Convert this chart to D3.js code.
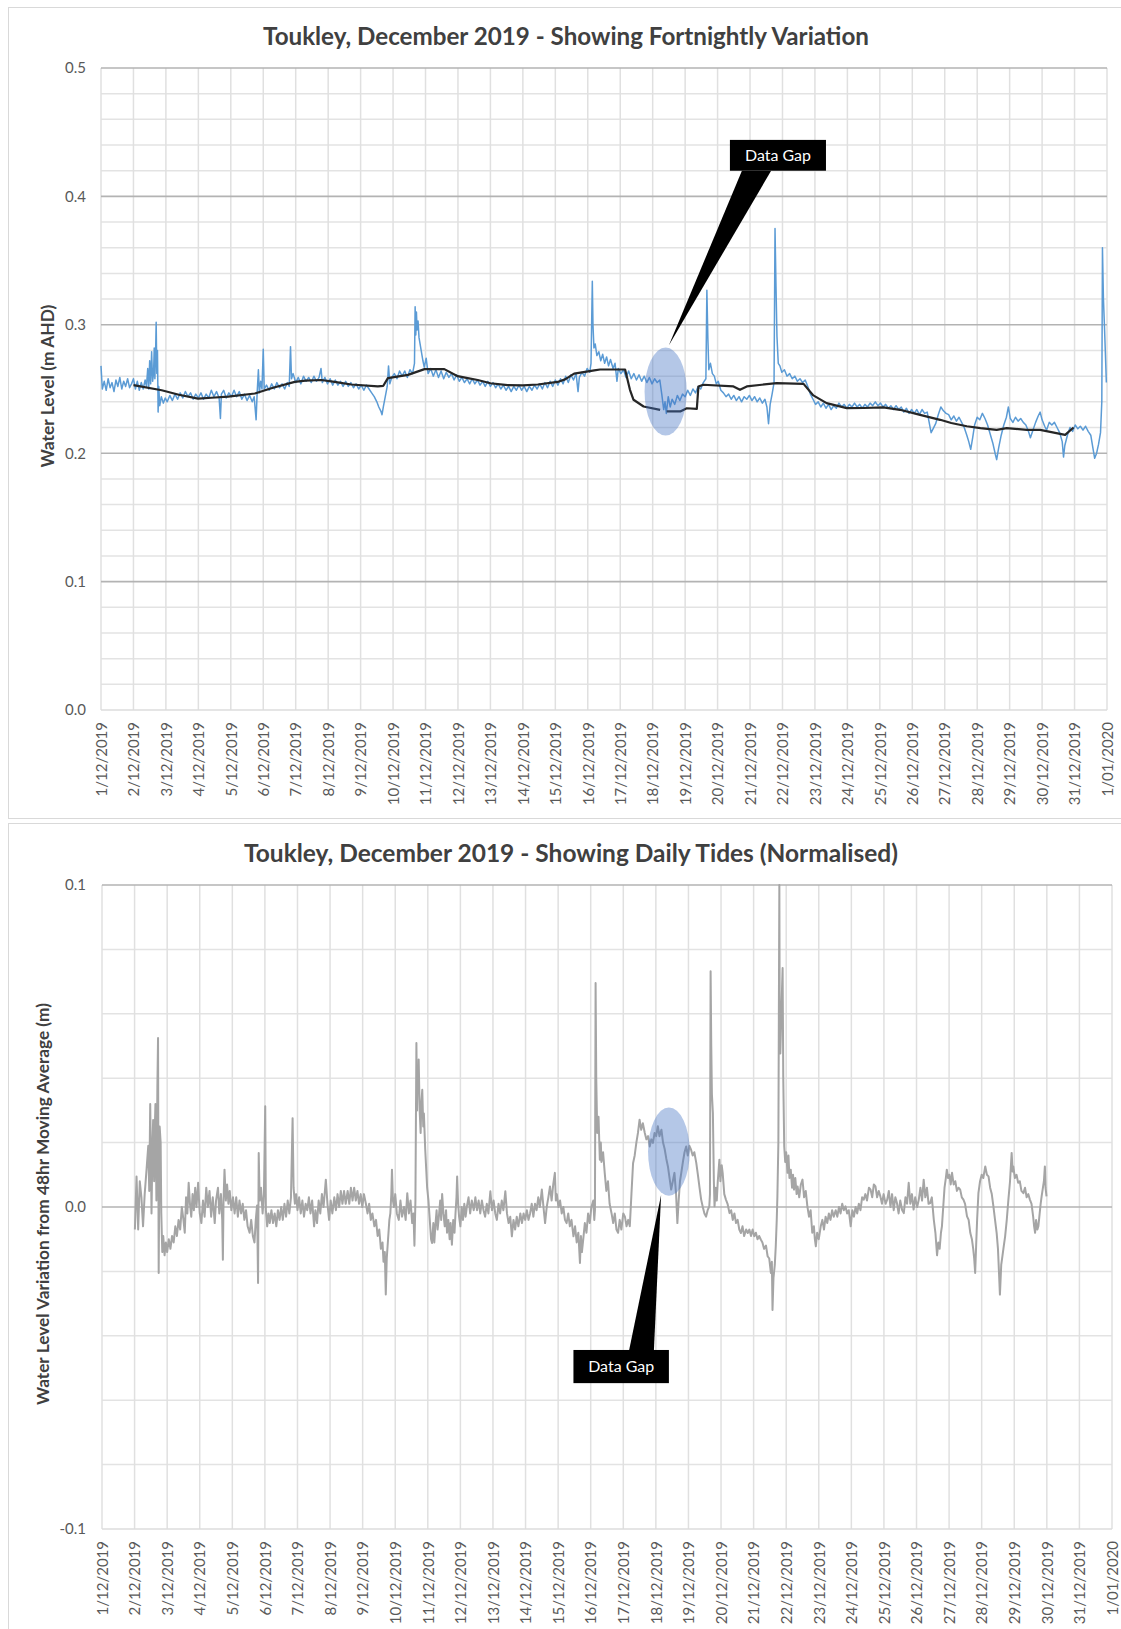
<!DOCTYPE html>
<html>
<head>
<meta charset="utf-8">
<script src="https://cdn.jsdelivr.net/npm/d3@7"></script>
<style>
  body { margin: 0; background: #fff; }
  svg { display: block; font-family: Lato, "Noto Sans", sans-serif; }
</style>
</head>
<body>
<svg id="chart" width="1121" height="1629"></svg>
<script>
// Day labels along both x axes.
const dayLabels = ['1/12/2019', '2/12/2019', '3/12/2019', '4/12/2019', '5/12/2019', '6/12/2019',
  '7/12/2019', '8/12/2019', '9/12/2019', '10/12/2019', '11/12/2019', '12/12/2019', '13/12/2019',
  '14/12/2019', '15/12/2019', '16/12/2019', '17/12/2019', '18/12/2019', '19/12/2019', '20/12/2019',
  '21/12/2019', '22/12/2019', '23/12/2019', '24/12/2019', '25/12/2019', '26/12/2019', '27/12/2019',
  '28/12/2019', '29/12/2019', '30/12/2019', '31/12/2019', '1/01/2020'];

const topTitle = 'Toukley, December 2019 - Showing Fortnightly Variation';
const bottomTitle = 'Toukley, December 2019 - Showing Daily Tides (Normalised)';
const topYTitle = 'Water Level (m AHD)';
const bottomYTitle = 'Water Level Variation from 48hr Moving Average (m)';
const topYTicks = [0, 0.1, 0.2, 0.3, 0.4, 0.5];
const bottomYTicks = [-0.1, 0, 0.1];
const gapLabel = 'Data Gap';

// Water level, [days since 1/12 00:00, m AHD].
const waterLevel = [
  [0.00,0.268],[0.04,0.250],[0.10,0.256],[0.16,0.249],[0.22,0.258],[0.28,0.251],[0.34,0.255],[0.40,0.248],
  [0.46,0.257],[0.52,0.252],[0.58,0.259],[0.64,0.250],[0.70,0.256],[0.76,0.252],[0.82,0.258],[0.88,0.251],
  [0.94,0.254],[1.00,0.258],[1.06,0.250],[1.12,0.256],[1.18,0.249],[1.24,0.255],[1.30,0.250],[1.36,0.257],
  [1.40,0.252],[1.44,0.266],[1.47,0.250],[1.50,0.272],[1.53,0.254],[1.56,0.279],[1.59,0.256],[1.62,0.262],
  [1.64,0.282],[1.66,0.258],[1.68,0.275],[1.70,0.302],[1.72,0.262],[1.74,0.280],[1.76,0.232],[1.78,0.252],
  [1.81,0.237],[1.86,0.244],[1.92,0.239],[1.98,0.243],[2.04,0.240],[2.12,0.245],[2.20,0.241],[2.28,0.246],
  [2.36,0.242],[2.44,0.247],[2.52,0.243],[2.60,0.248],[2.68,0.244],[2.76,0.247],[2.84,0.242],[2.92,0.246],
  [3.00,0.243],[3.08,0.247],[3.16,0.242],[3.24,0.246],[3.32,0.243],[3.40,0.249],[3.48,0.244],[3.56,0.248],
  [3.64,0.243],[3.68,0.227],[3.71,0.246],[3.78,0.249],[3.86,0.243],[3.94,0.247],[4.02,0.244],[4.10,0.249],
  [4.18,0.244],[4.26,0.248],[4.34,0.242],[4.42,0.246],[4.50,0.241],[4.58,0.245],[4.66,0.240],[4.72,0.244],
  [4.78,0.226],[4.81,0.246],[4.85,0.265],[4.88,0.247],[4.92,0.256],[4.96,0.250],[5.00,0.281],[5.03,0.250],
  [5.10,0.253],[5.18,0.249],[5.26,0.254],[5.34,0.250],[5.42,0.255],[5.50,0.251],[5.58,0.254],[5.66,0.250],
  [5.74,0.255],[5.80,0.252],[5.84,0.283],[5.87,0.258],[5.92,0.262],[6.00,0.255],[6.08,0.259],[6.16,0.254],
  [6.24,0.260],[6.32,0.256],[6.40,0.259],[6.48,0.255],[6.56,0.260],[6.64,0.256],[6.72,0.259],[6.78,0.266],
  [6.82,0.255],[6.90,0.259],[6.98,0.254],[7.06,0.258],[7.14,0.253],[7.22,0.257],[7.30,0.253],[7.38,0.256],
  [7.46,0.252],[7.54,0.256],[7.62,0.252],[7.70,0.255],[7.78,0.251],[7.86,0.254],[7.94,0.250],[8.02,0.253],
  [8.10,0.249],[8.18,0.253],[8.26,0.250],[8.34,0.247],[8.42,0.244],[8.50,0.240],[8.56,0.236],[8.62,0.233],
  [8.66,0.230],[8.70,0.236],[8.76,0.244],[8.82,0.252],[8.86,0.268],[8.90,0.254],[8.96,0.259],[9.04,0.262],
  [9.12,0.258],[9.20,0.264],[9.28,0.260],[9.36,0.264],[9.44,0.259],[9.52,0.265],[9.60,0.262],[9.66,0.270],
  [9.68,0.314],[9.70,0.292],[9.72,0.310],[9.74,0.296],[9.77,0.303],[9.80,0.290],[9.84,0.284],[9.88,0.278],
  [9.92,0.272],[9.96,0.267],[10.02,0.274],[10.08,0.262],[10.16,0.266],[10.24,0.260],[10.32,0.265],[10.40,0.259],
  [10.48,0.264],[10.56,0.258],[10.64,0.263],[10.72,0.259],[10.80,0.262],[10.88,0.257],[10.96,0.261],[11.04,0.256],
  [11.12,0.259],[11.20,0.255],[11.28,0.258],[11.36,0.254],[11.44,0.258],[11.52,0.254],[11.60,0.257],[11.68,0.253],
  [11.76,0.256],[11.84,0.252],[11.92,0.256],[12.00,0.252],[12.08,0.255],[12.16,0.251],[12.24,0.254],[12.32,0.250],
  [12.40,0.253],[12.48,0.249],[12.56,0.252],[12.64,0.248],[12.72,0.252],[12.80,0.249],[12.88,0.253],[12.96,0.249],
  [13.04,0.252],[13.12,0.248],[13.20,0.252],[13.28,0.249],[13.36,0.253],[13.44,0.250],[13.52,0.254],[13.60,0.250],
  [13.68,0.255],[13.76,0.251],[13.84,0.256],[13.92,0.252],[14.00,0.257],[14.08,0.253],[14.16,0.258],[14.24,0.254],
  [14.32,0.260],[14.40,0.255],[14.48,0.261],[14.56,0.257],[14.64,0.262],[14.70,0.248],[14.74,0.259],[14.82,0.263],
  [14.90,0.260],[14.98,0.266],[15.06,0.263],[15.10,0.270],[15.14,0.334],[15.16,0.300],[15.19,0.282],[15.23,0.285],
  [15.28,0.276],[15.34,0.279],[15.40,0.272],[15.46,0.277],[15.52,0.270],[15.58,0.275],[15.64,0.268],[15.70,0.273],
  [15.78,0.266],[15.84,0.270],[15.90,0.256],[15.94,0.266],[16.02,0.262],[16.10,0.265],[16.18,0.259],[16.26,0.264],
  [16.34,0.258],[16.42,0.262],[16.50,0.257],[16.58,0.261],[16.66,0.256],[16.74,0.260],[16.82,0.255],[16.90,0.259],
  [16.98,0.254],[17.06,0.258],[17.14,0.255],[17.22,0.257],[17.28,0.246],[17.34,0.234],[17.38,0.240],[17.42,0.231],
  [17.48,0.244],[17.54,0.236],[17.60,0.242],[17.68,0.238],[17.76,0.245],[17.84,0.241],[17.92,0.246],[18.00,0.244],
  [18.08,0.249],[18.16,0.245],[18.24,0.250],[18.32,0.247],[18.40,0.252],[18.48,0.250],[18.56,0.255],[18.64,0.258],
  [18.67,0.327],[18.70,0.290],[18.73,0.265],[18.78,0.270],[18.84,0.262],[18.90,0.260],[18.96,0.254],[19.02,0.256],
  [19.10,0.249],[19.18,0.247],[19.26,0.244],[19.34,0.246],[19.42,0.242],[19.50,0.245],[19.58,0.241],[19.66,0.244],
  [19.74,0.240],[19.82,0.244],[19.90,0.242],[19.98,0.245],[20.06,0.241],[20.14,0.244],[20.22,0.240],[20.30,0.243],
  [20.38,0.239],[20.46,0.242],[20.52,0.236],[20.57,0.223],[20.62,0.238],[20.68,0.246],[20.74,0.255],[20.77,0.375],
  [20.80,0.330],[20.83,0.291],[20.87,0.270],[20.92,0.268],[20.98,0.263],[21.06,0.265],[21.14,0.260],[21.22,0.262],
  [21.30,0.258],[21.38,0.260],[21.46,0.256],[21.54,0.258],[21.62,0.255],[21.70,0.257],[21.78,0.252],[21.86,0.246],
  [21.94,0.242],[22.02,0.238],[22.10,0.240],[22.18,0.236],[22.26,0.239],[22.34,0.235],[22.42,0.238],[22.50,0.234],
  [22.58,0.237],[22.66,0.235],[22.74,0.239],[22.82,0.236],[22.90,0.238],[22.98,0.235],[23.06,0.238],[23.14,0.236],
  [23.22,0.239],[23.30,0.236],[23.38,0.238],[23.46,0.235],[23.54,0.238],[23.62,0.236],[23.70,0.239],[23.78,0.237],
  [23.86,0.240],[23.94,0.237],[24.02,0.239],[24.10,0.236],[24.18,0.238],[24.26,0.235],[24.34,0.237],[24.42,0.234],
  [24.50,0.237],[24.58,0.234],[24.66,0.236],[24.74,0.232],[24.82,0.235],[24.90,0.231],[24.98,0.234],[25.06,0.231],
  [25.14,0.234],[25.22,0.230],[25.30,0.234],[25.38,0.231],[25.46,0.232],[25.52,0.224],[25.58,0.216],[25.64,0.219],
  [25.72,0.223],[25.80,0.230],[25.88,0.236],[25.96,0.233],[26.04,0.231],[26.12,0.230],[26.20,0.226],[26.28,0.229],
  [26.36,0.225],[26.44,0.228],[26.52,0.224],[26.60,0.220],[26.68,0.214],[26.74,0.209],[26.80,0.203],[26.86,0.212],
  [26.92,0.222],[27.00,0.228],[27.08,0.226],[27.16,0.231],[27.24,0.227],[27.32,0.222],[27.40,0.215],[27.48,0.208],
  [27.56,0.199],[27.60,0.195],[27.66,0.204],[27.74,0.214],[27.82,0.222],[27.90,0.228],[27.96,0.236],[28.02,0.227],
  [28.10,0.224],[28.18,0.228],[28.26,0.225],[28.34,0.227],[28.42,0.224],[28.50,0.222],[28.58,0.217],[28.64,0.212],
  [28.72,0.218],[28.80,0.224],[28.88,0.229],[28.94,0.232],[29.00,0.226],[29.08,0.221],[29.14,0.218],[29.22,0.224],
  [29.30,0.222],[29.38,0.224],[29.46,0.220],[29.54,0.216],[29.62,0.209],[29.66,0.197],[29.70,0.206],[29.78,0.214],
  [29.86,0.220],[29.94,0.217],[30.02,0.222],[30.10,0.219],[30.18,0.221],[30.26,0.218],[30.34,0.221],[30.42,0.217],
  [30.50,0.214],[30.56,0.205],[30.62,0.196],[30.68,0.200],[30.74,0.207],[30.80,0.216],[30.84,0.240],[30.86,0.360],
  [30.89,0.320],[30.92,0.300],[30.95,0.278],[30.98,0.255]
];

// 48hr moving average, [day, m AHD]; null marks the data gap.
const movingAverage = [
  [1.00,0.253],[1.87,0.249],[2.40,0.2455],[2.99,0.2425],[3.40,0.2432],[3.92,0.244],[4.74,0.2465],[5.30,0.251],
  [5.97,0.2555],[6.30,0.2565],[6.79,0.257],[7.20,0.2555],[7.71,0.2535],[8.53,0.252],[8.70,0.2525],[8.84,0.2585],
  [9.46,0.261],[9.97,0.2655],[10.58,0.2655],[10.99,0.260],[11.30,0.2585],[11.61,0.257],[12.00,0.2545],[12.53,0.253],
  [13.00,0.2528],[13.46,0.2535],[14.07,0.2555],[14.30,0.2575],[14.58,0.262],[15.20,0.2645],[15.38,0.2652],
  [16.15,0.2652],[16.30,0.2494],[16.41,0.2416],[16.72,0.2364],[17.23,0.2338],[17.33,null],[17.43,0.2325],
  [17.85,0.2325],[18.05,0.235],[18.36,0.2345],[18.41,0.252],[18.56,0.2533],[19.49,0.252],[19.69,0.2494],
  [19.90,0.252],[20.82,0.2546],[21.65,0.254],[21.95,0.245],[22.36,0.239],[22.98,0.2351],[23.50,0.2352],
  [24.11,0.2357],[24.62,0.2338],[25.24,0.2299],[25.86,0.226],[26.20,0.2235],[26.68,0.221],[27.10,0.2195],
  [27.60,0.2182],[27.91,0.2195],[28.53,0.2182],[28.94,0.2182],[29.71,0.2143],[29.97,0.220]
];

// Variation from the 48hr moving average, [day, m].
const variation = [
  [1.01,-0.007],[1.06,0.0095],[1.11,-0.007],[1.16,0.008],[1.21,0.003],[1.26,-0.006],[1.31,0.004],[1.37,0.012],
  [1.42,0.019],[1.45,0.005],[1.48,0.032],[1.52,-0.002],[1.55,0.020],[1.57,0.027],[1.60,0.008],[1.62,0.024],
  [1.64,0.032],[1.67,0.002],[1.70,0.0375],[1.72,0.0525],[1.74,-0.0205],[1.77,0.025],[1.80,0.020],[1.82,-0.002],
  [1.85,-0.014],[1.88,-0.009],[1.92,-0.015],[1.96,-0.011],[2.00,-0.014],[2.05,-0.010],[2.10,-0.013],[2.15,-0.009],
  [2.20,-0.011],[2.25,-0.006],[2.30,-0.009],[2.35,-0.004],[2.40,-0.007],[2.45,0.000],[2.50,-0.004],[2.54,-0.008],
  [2.58,0.003],[2.62,-0.002],[2.66,0.0075],[2.70,0.001],[2.74,-0.003],[2.78,0.004],[2.82,-0.001],[2.86,0.006],
  [2.90,0.000],[2.95,0.0075],[3.00,-0.002],[3.05,-0.005],[3.10,0.002],[3.15,-0.003],[3.20,0.006],[3.25,0.000],
  [3.30,0.005],[3.35,-0.003],[3.40,0.003],[3.46,-0.005],[3.50,0.002],[3.56,0.006],[3.60,-0.002],[3.65,0.004],
  [3.69,-0.004],[3.71,-0.0164],[3.73,0.002],[3.76,0.0116],[3.80,0.002],[3.84,0.007],[3.88,0.001],[3.92,0.005],
  [3.97,-0.001],[4.02,0.003],[4.07,-0.002],[4.12,0.003],[4.17,-0.003],[4.22,0.002],[4.27,-0.002],[4.32,0.001],
  [4.37,-0.004],[4.42,-0.001],[4.47,-0.006],[4.53,-0.008],[4.58,-0.004],[4.63,-0.009],[4.68,-0.011],[4.72,-0.004],
  [4.76,0.0005],[4.79,-0.0236],[4.81,0.0168],[4.84,0.002],[4.88,0.006],[4.93,-0.002],[4.97,0.004],[5.01,0.0313],
  [5.03,-0.001],[5.07,-0.006],[5.11,-0.002],[5.15,-0.005],[5.20,-0.001],[5.25,-0.005],[5.30,-0.002],[5.35,-0.006],
  [5.40,-0.001],[5.45,-0.004],[5.50,0.000],[5.55,-0.004],[5.60,0.001],[5.65,-0.003],[5.70,0.002],[5.75,-0.002],
  [5.80,0.003],[5.85,0.0276],[5.88,0.006],[5.92,0.001],[5.96,0.004],[6.00,-0.001],[6.05,0.003],[6.10,-0.002],
  [6.15,0.002],[6.20,-0.003],[6.25,0.001],[6.30,-0.001],[6.35,0.003],[6.40,-0.002],[6.45,0.002],[6.51,-0.006],
  [6.55,-0.001],[6.60,-0.005],[6.65,0.002],[6.70,-0.002],[6.75,0.004],[6.80,0.000],[6.87,0.0085],[6.92,0.001],
  [6.97,-0.004],[7.02,0.002],[7.07,-0.002],[7.13,0.003],[7.18,-0.001],[7.23,0.004],[7.28,0.000],[7.33,0.005],
  [7.38,0.001],[7.43,0.005],[7.48,0.001],[7.54,0.005],[7.59,0.001],[7.64,0.006],[7.69,0.002],[7.74,0.006],
  [7.79,0.002],[7.84,0.005],[7.89,0.001],[7.94,0.004],[7.99,0.000],[8.04,0.004],[8.10,0.001],[8.15,-0.002],
  [8.20,0.001],[8.25,-0.004],[8.30,-0.002],[8.36,-0.006],[8.41,-0.004],[8.46,-0.009],[8.51,-0.007],[8.56,-0.013],
  [8.61,-0.011],[8.64,-0.017],[8.68,-0.014],[8.71,-0.0272],[8.74,-0.016],[8.78,-0.010],[8.82,-0.004],[8.85,-0.002],
  [8.88,0.004],[8.90,0.0116],[8.93,0.002],[8.96,0.000],[9.00,0.004],[9.05,-0.002],[9.11,-0.004],[9.16,0.002],
  [9.21,-0.003],[9.27,0.000],[9.32,-0.004],[9.37,0.0043],[9.42,-0.002],[9.47,0.002],[9.52,-0.005],[9.56,-0.002],
  [9.59,-0.012],[9.62,0.002],[9.65,0.0509],[9.67,0.030],[9.69,0.042],[9.71,0.036],[9.72,0.0458],[9.75,0.030],
  [9.78,0.023],[9.80,0.032],[9.83,0.0364],[9.86,0.025],[9.88,0.029],[9.92,0.018],[9.95,0.012],[9.98,0.006],
  [10.02,0.002],[10.06,-0.004],[10.10,-0.010],[10.13,-0.0112],[10.17,-0.005],[10.20,-0.011],[10.23,-0.006],
  [10.27,-0.001],[10.30,-0.007],[10.34,-0.003],[10.38,0.002],[10.41,-0.004],[10.44,0.004],[10.48,-0.002],
  [10.52,-0.006],[10.56,-0.001],[10.59,-0.008],[10.63,-0.004],[10.67,-0.010],[10.70,-0.005],[10.74,-0.0117],
  [10.78,-0.004],[10.82,-0.008],[10.85,-0.002],[10.88,0.003],[10.90,0.0095],[10.93,0.001],[10.96,-0.003],
  [11.00,-0.006],[11.04,0.000],[11.08,-0.004],[11.12,0.001],[11.16,-0.003],[11.20,0.0002],[11.25,0.003],
  [11.30,-0.002],[11.35,0.002],[11.41,-0.001],[11.46,0.003],[11.51,-0.001],[11.56,0.002],[11.61,-0.002],
  [11.66,0.002],[11.71,-0.001],[11.76,-0.003],[11.81,0.001],[11.86,-0.002],[11.92,0.0049],[11.97,-0.001],
  [12.02,0.002],[12.07,-0.002],[12.12,-0.004],[12.17,0.001],[12.22,-0.002],[12.27,0.002],[12.32,-0.001],
  [12.38,0.0049],[12.43,-0.002],[12.48,-0.005],[12.53,-0.003],[12.58,-0.0091],[12.63,-0.004],[12.68,-0.007],
  [12.73,-0.003],[12.78,-0.006],[12.84,-0.002],[12.89,-0.005],[12.94,-0.002],[12.99,-0.004],[13.04,-0.001],
  [13.09,-0.004],[13.14,-0.002],[13.19,0.001],[13.24,-0.003],[13.29,0.001],[13.34,-0.001],[13.39,0.003],
  [13.44,0.000],[13.50,0.0054],[13.55,0.000],[13.60,-0.005],[13.65,0.000],[13.70,0.003],[13.75,0.0064],
  [13.80,0.002],[13.85,0.007],[13.90,0.0106],[13.93,0.002],[13.96,0.004],[14.01,0.000],[14.06,0.002],
  [14.11,-0.002],[14.16,0.000],[14.21,-0.004],[14.26,-0.005],[14.31,-0.002],[14.36,-0.006],[14.41,-0.004],
  [14.47,-0.0091],[14.52,-0.006],[14.57,-0.011],[14.62,-0.008],[14.67,-0.0174],[14.70,-0.009],[14.73,-0.014],
  [14.77,-0.0101],[14.82,-0.005],[14.87,-0.008],[14.92,-0.002],[14.97,-0.005],[15.02,0.000],[15.08,0.002],
  [15.11,-0.004],[15.13,-0.001],[15.15,0.0696],[15.17,0.040],[15.20,0.023],[15.24,0.028],[15.28,0.0147],
  [15.31,0.020],[15.33,0.014],[15.38,0.017],[15.43,0.0106],[15.48,0.005],[15.53,0.008],[15.58,0.001],
  [15.64,-0.002],[15.69,-0.005],[15.74,-0.002],[15.79,-0.007],[15.84,-0.008],[15.89,-0.004],[15.94,-0.007],
  [16.00,-0.002],[16.05,-0.003],[16.10,-0.006],[16.15,-0.004],[16.20,-0.006],[16.25,0.004],[16.30,0.0136],
  [16.35,0.016],[16.40,0.0199],[16.45,0.023],[16.50,0.0271],[16.55,0.024],[16.60,0.026],[16.66,0.023],
  [16.71,0.021],[16.76,0.022],[16.81,0.0188],[16.86,0.021],[16.91,0.0199],[16.96,0.023],[17.01,0.022],
  [17.06,0.0251],[17.11,0.022],[17.17,0.024],[17.22,0.020],[17.27,0.018],[17.32,0.015],[17.37,0.0126],
  [17.42,0.009],[17.47,0.0054],[17.52,0.008],[17.57,0.0106],[17.62,0.004],[17.66,-0.005],[17.70,0.002],
  [17.74,0.008],[17.78,0.0106],[17.83,0.014],[17.88,0.017],[17.93,0.0188],[17.98,0.016],[18.03,0.019],
  [18.08,0.0178],[18.13,0.016],[18.18,0.017],[18.24,0.0137],[18.29,0.010],[18.34,0.006],[18.39,0.0023],
  [18.44,0.000],[18.49,-0.002],[18.54,-0.003],[18.59,-0.001],[18.64,0.0002],[18.66,0.004],[18.68,0.0732],
  [18.70,0.050],[18.72,0.035],[18.75,0.0292],[18.78,0.008],[18.80,0.0002],[18.84,0.006],[18.87,0.002],
  [18.90,0.008],[18.93,0.012],[18.95,0.0147],[18.98,0.008],[19.02,0.013],[19.05,0.0106],[19.10,0.004],
  [19.15,0.0023],[19.20,0.001],[19.26,-0.0019],[19.31,-0.001],[19.36,-0.004],[19.41,-0.002],[19.46,-0.005],
  [19.51,-0.004],[19.56,-0.007],[19.61,-0.0081],[19.66,-0.006],[19.71,-0.009],[19.77,-0.007],[19.82,-0.0081],
  [19.87,-0.007],[19.92,-0.009],[19.97,-0.007],[20.02,-0.0091],[20.07,-0.008],[20.12,-0.010],[20.17,-0.009],
  [20.22,-0.0101],[20.27,-0.011],[20.32,-0.013],[20.38,-0.012],[20.43,-0.0153],[20.48,-0.016],[20.53,-0.0205],
  [20.56,-0.017],[20.58,-0.032],[20.61,-0.022],[20.65,-0.018],[20.68,-0.0122],[20.71,-0.004],[20.73,0.0033],
  [20.76,0.020],[20.79,0.100],[20.80,0.060],[20.82,0.0477],[20.85,0.060],[20.89,0.0742],[20.91,0.040],
  [20.94,0.0188],[20.97,0.014],[21.00,0.017],[21.04,0.0106],[21.07,0.016],[21.10,0.009],[21.14,0.0116],
  [21.18,0.006],[21.21,0.010],[21.24,0.0054],[21.28,0.009],[21.32,0.004],[21.35,0.0064],[21.40,0.003],
  [21.45,0.007],[21.50,0.0085],[21.55,0.003],[21.60,0.005],[21.65,0.0002],[21.70,-0.003],[21.75,-0.001],
  [21.80,-0.008],[21.85,-0.006],[21.88,-0.010],[21.91,-0.0122],[21.95,-0.008],[22.00,-0.010],[22.06,-0.006],
  [22.11,-0.004],[22.16,-0.007],[22.21,-0.003],[22.26,-0.005],[22.31,-0.002],[22.36,-0.004],[22.41,-0.001],
  [22.46,-0.003],[22.52,-0.001],[22.57,-0.003],[22.62,0.000],[22.67,-0.002],[22.72,0.001],[22.77,-0.001],
  [22.82,0.0002],[22.87,-0.002],[22.92,-0.001],[22.98,-0.006],[23.03,-0.001],[23.08,-0.003],[23.13,0.000],
  [23.18,-0.002],[23.23,0.001],[23.28,-0.001],[23.33,0.003],[23.38,0.0023],[23.43,0.004],[23.48,0.002],
  [23.54,0.006],[23.59,0.0054],[23.64,0.003],[23.69,0.007],[23.74,0.0064],[23.79,0.003],[23.84,0.005],
  [23.89,0.0033],[23.94,0.001],[23.99,0.004],[24.05,0.001],[24.10,0.0023],[24.15,0.005],[24.20,0.000],
  [24.25,0.004],[24.30,-0.001],[24.35,0.003],[24.40,0.0012],[24.45,-0.002],[24.50,0.002],[24.56,-0.001],
  [24.61,-0.0019],[24.66,0.003],[24.71,0.001],[24.76,0.0075],[24.81,0.001],[24.86,0.004],[24.91,-0.0008],
  [24.96,0.003],[25.02,0.000],[25.07,0.0023],[25.12,0.006],[25.17,0.002],[25.22,0.0085],[25.27,0.003],
  [25.32,0.006],[25.37,0.001],[25.42,0.0012],[25.47,0.003],[25.53,-0.0039],[25.58,-0.008],[25.63,-0.015],
  [25.67,-0.011],[25.71,-0.013],[25.75,-0.008],[25.78,-0.006],[25.82,0.000],[25.86,0.006],[25.90,0.009],
  [25.93,0.0116],[25.97,0.009],[26.01,0.010],[26.05,0.007],[26.09,0.0106],[26.14,0.007],[26.19,0.008],
  [26.24,0.005],[26.29,0.006],[26.34,0.0054],[26.39,0.003],[26.44,0.0023],[26.49,0.001],[26.55,-0.0029],
  [26.60,-0.004],[26.65,-0.008],[26.70,-0.010],[26.74,-0.013],[26.77,-0.016],[26.80,-0.0205],[26.83,-0.012],
  [26.86,-0.004],[26.90,0.0043],[26.95,0.008],[27.00,0.010],[27.05,0.009],[27.11,0.0126],[27.16,0.010],
  [27.21,0.0095],[27.26,0.006],[27.31,0.004],[27.36,0.0002],[27.41,-0.004],[27.46,-0.0081],[27.50,-0.013],
  [27.53,-0.020],[27.56,-0.0272],[27.60,-0.018],[27.64,-0.015],[27.68,-0.012],[27.72,-0.0091],[27.77,-0.004],
  [27.82,0.0023],[27.87,0.008],[27.92,0.0168],[27.95,0.011],[27.97,0.0126],[28.02,0.009],[28.07,0.010],
  [28.12,0.0075],[28.17,0.008],[28.22,0.005],[28.28,0.0043],[28.33,0.006],[28.38,0.003],[28.43,0.004],
  [28.48,0.0023],[28.53,0.001],[28.58,-0.003],[28.61,-0.006],[28.64,-0.008],[28.67,-0.004],[28.71,-0.007],
  [28.74,-0.006],[28.78,-0.002],[28.81,0.001],[28.84,0.0033],[28.88,0.006],[28.91,0.008],[28.94,0.0126],
  [28.96,0.006],[28.99,0.0033]
];

const svg = d3.select('#chart');

// Scale a text's font size so it spans a given width.
function fitText(sel, target) {
  const size = parseFloat(sel.attr('font-size'));
  const w = sel.node().getComputedTextLength();
  sel.attr('font-size', (size * target / w).toFixed(2));
}

// Draw one chart frame: border, title, gridlines and axes.
const renderPanel = function renderPanel(cfg) {
  svg.append('rect')
    .attr('x', 8.5).attr('y', cfg.frameTop + 0.5)
    .attr('width', 1140).attr('height', cfg.frameBottom - cfg.frameTop)
    .attr('fill', '#fff').attr('stroke', '#d9d9d9');

  const x = d3.scaleLinear().domain([0, dayLabels.length - 1]).range([cfg.left, cfg.right]);
  const y = d3.scaleLinear().domain(cfg.yDomain).range([cfg.bottom, cfg.top]);
  const g = svg.append('g');

  // Minor horizontal gridlines every 0.02.
  const minor = y.ticks(cfg.minorCount).filter(v => !cfg.yTicks.some(t => Math.abs(t - v) < 1e-9));
  g.append('g').selectAll('line').data(minor).join('line')
    .attr('x1', cfg.left).attr('x2', cfg.right)
    .attr('y1', d => y(d)).attr('y2', d => y(d))
    .attr('stroke', '#e3e3e3').attr('stroke-width', 1.5);

  // Vertical gridlines, one per day.
  g.append('g').selectAll('line').data(d3.range(dayLabels.length)).join('line')
    .attr('x1', d => x(d)).attr('x2', d => x(d))
    .attr('y1', cfg.top).attr('y2', cfg.bottom)
    .attr('stroke', '#e0e0e0').attr('stroke-width', 1.5);

  // Major horizontal gridlines (the lowest one is the axis line).
  g.append('g').selectAll('line').data(cfg.yTicks).join('line')
    .attr('x1', cfg.left).attr('x2', cfg.right)
    .attr('y1', d => y(d)).attr('y2', d => y(d))
    .attr('stroke', d => d === cfg.yDomain[0] ? '#dcdcdc' : '#b3b3b3')
    .attr('stroke-width', 1.6);

  // Y axis.
  const yAxis = d3.axisLeft(y)
    .tickValues(cfg.yTicks)
    .tickFormat(d => d.toFixed(1))
    .tickSize(0)
    .tickPadding(cfg.left - 86);
  const gy = g.append('g').attr('transform', 'translate(' + cfg.left + ',0)').call(yAxis);
  gy.select('.domain').remove();
  gy.selectAll('text')
    .attr('font-family', 'Lato, sans-serif')
    .attr('font-size', cfg.tickSize)
    .attr('fill', '#595959');

  // X axis with rotated date labels.
  const xAxis = d3.axisBottom(x)
    .tickValues(d3.range(dayLabels.length))
    .tickFormat(i => dayLabels[i])
    .tickSize(0);
  const gx = g.append('g').attr('transform', 'translate(0,' + cfg.bottom + ')').call(xAxis);
  gx.select('.domain').remove();
  gx.selectAll('text')
    .attr('font-family', 'Lato, sans-serif')
    .attr('font-size', cfg.tickSize)
    .attr('fill', '#595959')
    .attr('transform', 'rotate(-90)')
    .attr('text-anchor', 'end')
    .attr('x', -12).attr('y', 0).attr('dy', '0.35em');

  // Title.
  const title = svg.append('text')
    .attr('x', cfg.titleX).attr('y', cfg.titleY)
    .attr('text-anchor', 'middle')
    .attr('font-size', 20).attr('font-weight', 700)
    .attr('fill', '#404040')
    .text(cfg.title);
  fitText(title, cfg.titleWidth);

  // Y axis title.
  const yTitle = svg.append('text')
    .attr('transform', 'translate(' + cfg.yTitleX + ',' + cfg.yTitleY + ') rotate(-90)')
    .attr('text-anchor', 'middle').attr('dy', '0.35em')
    .attr('font-size', 13).attr('font-weight', 700)
    .attr('fill', '#404040')
    .text(cfg.yTitle);
  fitText(yTitle, cfg.yTitleWidth);

  return { g: g, x: x, y: y };
};

// Shaded ellipse over the gap plus a black "Data Gap" callout.
const renderGapCallout = function renderGapCallout(p, gap) {
  p.g.append('ellipse')
    .attr('cx', p.x(gap.center[0])).attr('cy', p.y(gap.center[1]))
    .attr('rx', p.x(gap.center[0] + gap.spread[0]) - p.x(gap.center[0]))
    .attr('ry', p.y(gap.center[1]) - p.y(gap.center[1] + gap.spread[1]))
    .attr('fill', '#4472c4').attr('fill-opacity', 0.4);

  const pts = [[gap.base[0], gap.baseV], [gap.base[1], gap.baseV], gap.tip];
  p.g.append('polygon')
    .attr('points', pts.map(d => p.x(d[0]) + ',' + p.y(d[1])).join(' '))
    .attr('fill', '#000');

  const bx0 = p.x(gap.box[0]), bx1 = p.x(gap.box[1]);
  const by0 = p.y(gap.box[2]), by1 = p.y(gap.box[3]);
  p.g.append('rect')
    .attr('x', bx0).attr('y', by0)
    .attr('width', bx1 - bx0).attr('height', by1 - by0)
    .attr('fill', '#000');
  const label = p.g.append('text')
    .attr('x', (bx0 + bx1) / 2).attr('y', (by0 + by1) / 2)
    .attr('dy', '0.35em').attr('text-anchor', 'middle')
    .attr('font-size', 14).attr('fill', '#fff')
    .text(gapLabel);
  fitText(label, 66);
};

// Top chart: water level with 48hr moving average.
const levelChart = renderPanel({
  frameTop: 7, frameBottom: 818,
  left: 101, right: 1107, top: 68, bottom: 710,
  yDomain: [0, 0.5], yTicks: topYTicks, minorCount: 25, tickSize: 15,
  title: topTitle, titleX: 566, titleY: 45, titleWidth: 606,
  yTitle: topYTitle, yTitleX: 48, yTitleY: 386, yTitleWidth: 163
});

levelChart.g.append('path')
  .datum(waterLevel)
  .attr('fill', 'none').attr('stroke', '#5b9bd5').attr('stroke-width', 1.5)
  .attr('stroke-linejoin', 'round')
  .attr('d', d3.line().x(d => levelChart.x(d[0])).y(d => levelChart.y(d[1])));

levelChart.g.append('path')
  .datum(movingAverage)
  .attr('fill', 'none').attr('stroke', '#262626').attr('stroke-width', 2.2)
  .attr('stroke-linejoin', 'round')
  .attr('d', d3.line().defined(d => d[1] !== null).x(d => levelChart.x(d[0])).y(d => levelChart.y(d[1])));

renderGapCallout(levelChart, {
  center: [17.4, 0.248], spread: [0.65, 0.0343],
  base: [19.75, 20.65], baseV: 0.42, tip: [17.5, 0.284],
  box: [19.38, 22.34, 0.444, 0.42]
});

// Bottom chart: variation from the moving average.
const tideChart = renderPanel({
  frameTop: 823, frameBottom: 1660,
  left: 102, right: 1112, top: 885, bottom: 1529,
  yDomain: [-0.1, 0.1], yTicks: bottomYTicks, minorCount: 10, tickSize: 15,
  title: bottomTitle, titleX: 571, titleY: 862, titleWidth: 654,
  yTitle: bottomYTitle, yTitleX: 43, yTitleY: 1204, yTitleWidth: 402
});

tideChart.g.append('path')
  .datum(variation)
  .attr('fill', 'none').attr('stroke', '#a5a5a5').attr('stroke-width', 2)
  .attr('stroke-linejoin', 'round')
  .attr('d', d3.line().x(d => tideChart.x(d[0])).y(d => tideChart.y(d[1])));

renderGapCallout(tideChart, {
  center: [17.4, 0.0172], spread: [0.64, 0.0137],
  base: [16.18, 16.94], baseV: -0.0444, tip: [17.16, 0.0037],
  box: [14.47, 17.4, -0.0444, -0.0547]
});
</script>
</body>
</html>
